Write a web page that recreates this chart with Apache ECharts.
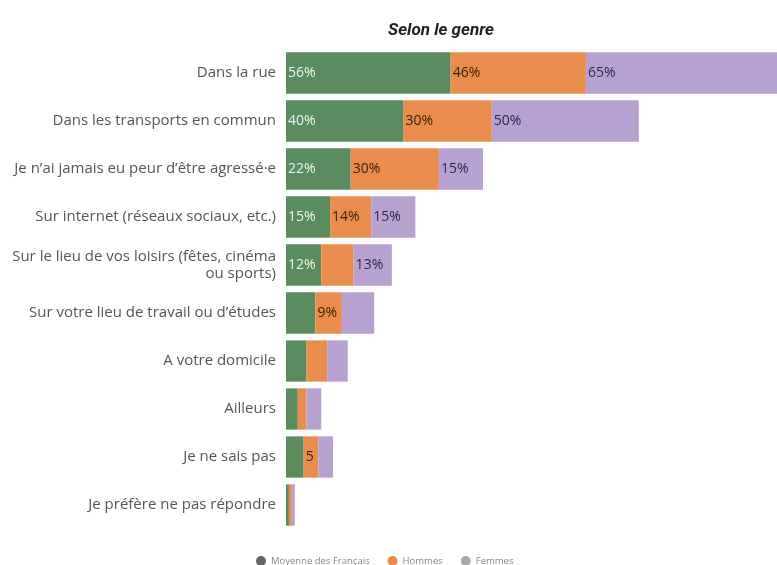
<!DOCTYPE html>
<html>
<head>
<meta charset="utf-8">
<script src="https://cdn.jsdelivr.net/npm/echarts@6/dist/echarts.min.js"></script>
<style>
  html, body { margin: 0; padding: 0; background: #fff; }
  #chart { width: 777px; height: 565px; }
</style>
</head>
<body>
<div id="chart"></div>
<script>
// catégories (de haut en bas)
const categories = [
  'Dans la rue',
  'Dans les transports en commun',
  'Je n’ai jamais eu peur d’être agressé·e',
  'Sur internet (réseaux sociaux, etc.)',
  'Sur le lieu de vos loisirs (fêtes, cinéma\nou sports)',
  'Sur votre lieu de travail ou d’études',
  'A votre domicile',
  'Ailleurs',
  'Je ne sais pas',
  'Je préfère ne pas répondre'
]

// valeurs en %
const moyenne = [56, 40, 22, 15, 12, 10, 7, 4, 6, 1]
const hommes = [46, 30, 30, 14, 11, 9, 7, 3, 5, 1]
const femmes = [65, 50, 15, 15, 13, 11, 7, 5, 5, 1]

// étiquettes affichées sur les barres ('' = rien)
const moyenneLabels = ['56%', '40%', '22%', '15%', '12%', '', '', '', '', '']
const hommesLabels = ['46%', '30%', '30%', '14%', '', '9%', '', '', '5', '']
const femmesLabels = ['65%', '50%', '15%', '15%', '13%', '', '', '', '', '']

const seriesNames = ['Moyenne des Français', 'Hommes', 'Femmes']

const chart = echarts.init(document.getElementById('chart'))

function makeSeries(name, values, labels, color, labelColor) {
  return {
    name: name,
    type: 'bar',
    stack: 'total',
    barCategoryGap: '14%',
    itemStyle: { color: color },
    label: {
      show: true,
      position: 'insideLeft',
      distance: 2,
      color: labelColor,
      fontFamily: 'Open Sans',
      fontSize: 14,
      formatter: p => labels[p.dataIndex]
    },
    data: values
  }
}

chart.setOption({
  animation: false,
  title: {
    text: 'Selon le genre',
    left: 383,
    top: 17,
    textStyle: {
      fontFamily: 'Roboto',
      fontStyle: 'italic',
      fontWeight: 'bold',
      fontSize: 17,
      color: '#222'
    }
  },
  legend: {
    top: 551,
    left: 251,
    itemWidth: 10,
    itemHeight: 10,
    itemGap: 18,
    icon: 'circle',
    textStyle: { fontFamily: 'Open Sans', fontSize: 9.5, color: '#888' },
    data: [
      { name: seriesNames[0], itemStyle: { color: '#666' } },
      { name: seriesNames[1], itemStyle: { color: '#e98c4c' } },
      { name: seriesNames[2], itemStyle: { color: '#a9a9a9' } }
    ]
  },
  grid: { left: 286, top: 49, width: 497, height: 480 },
  xAxis: {
    type: 'value',
    min: 0,
    max: 167,
    show: false
  },
  yAxis: {
    type: 'category',
    inverse: true,
    data: categories,
    axisLine: { show: false },
    axisTick: { show: false },
    axisLabel: {
      margin: 10,
      fontFamily: 'Open Sans',
      fontSize: 15,
      lineHeight: 17,
      color: '#555',
      align: 'right'
    }
  },
  series: [
    makeSeries(seriesNames[0], moyenne, moyenneLabels, '#5a8c60', '#eef3ee'),
    makeSeries(seriesNames[1], hommes, hommesLabels, '#e98c4c', '#3a2210'),
    makeSeries(seriesNames[2], femmes, femmesLabels, '#b6a1d0', '#2b2a4e')
  ]
})
</script>
</body>
</html>
